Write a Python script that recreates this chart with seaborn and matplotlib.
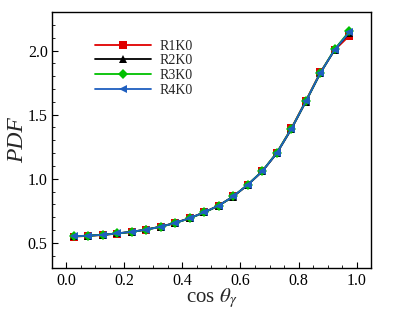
import numpy as np
import pandas as pd
import seaborn as sns
import matplotlib
matplotlib.use('Agg')
import matplotlib.pyplot as plt
from matplotlib.ticker import MultipleLocator

# bin centres of cos(theta_gamma)
cos_theta = [0.025, 0.075, 0.125, 0.175, 0.225, 0.275, 0.325, 0.375, 0.425, 0.475,
             0.525, 0.575, 0.625, 0.675, 0.725, 0.775, 0.825, 0.875, 0.925, 0.975]

# PDF, one list per case
r1k0 = [0.548, 0.554, 0.561, 0.572, 0.585, 0.603, 0.626, 0.656, 0.693, 0.738,
        0.791, 0.862, 0.952, 1.058, 1.202, 1.392, 1.608, 1.830, 2.006, 2.115]
r2k0 = [0.551, 0.556, 0.563, 0.574, 0.586, 0.604, 0.626, 0.655, 0.692, 0.737,
        0.790, 0.861, 0.953, 1.057, 1.198, 1.385, 1.600, 1.822, 2.008, 2.140]
r3k0 = [0.550, 0.555, 0.562, 0.573, 0.585, 0.603, 0.625, 0.654, 0.691, 0.737,
        0.790, 0.862, 0.954, 1.060, 1.203, 1.390, 1.604, 1.826, 2.012, 2.150]
r4k0 = [0.551, 0.556, 0.562, 0.573, 0.586, 0.603, 0.625, 0.655, 0.692, 0.738,
        0.791, 0.862, 0.953, 1.058, 1.200, 1.388, 1.603, 1.825, 2.008, 2.143]

cases = ['R1K0', 'R2K0', 'R3K0', 'R4K0']
colors = ['#e00000', '#000000', '#00c000', '#1f5fbf']
marks = ['s', '^', 'D', '<']

df_list = []
for name, vals in zip(cases, [r1k0, r2k0, r3k0, r4k0]):
    df_list.append(pd.DataFrame({'x': cos_theta, 'pdf': vals, 'case': name}))
df = pd.concat(df_list)

sns.set_style('white')
plt.rcParams['font.family'] = 'serif'
plt.rcParams['font.serif'] = ['Liberation Serif', 'DejaVu Serif']
plt.rcParams['mathtext.fontset'] = 'stix'

fig = plt.figure(figsize=(3.99, 3.10), dpi=100)
ax = fig.add_axes([0.130, 0.134, 0.800, 0.827])

sns.lineplot(data=df, x='x', y='pdf', hue='case', style='case',
             palette=dict(zip(cases, colors)), markers=dict(zip(cases, marks)),
             dashes=False, markersize=5.5, markeredgewidth=0, linewidth=1.3,
             legend=False, ax=ax)

ax.set_xlim(-0.05, 1.05)
ax.set_ylim(0.3, 2.3)
ax.xaxis.set_major_locator(MultipleLocator(0.2))
ax.xaxis.set_minor_locator(MultipleLocator(0.05))
ax.yaxis.set_major_locator(MultipleLocator(0.5))
ax.yaxis.set_minor_locator(MultipleLocator(0.1))
ax.xaxis.set_major_formatter(plt.FormatStrFormatter('%.1f'))
ax.yaxis.set_major_formatter(plt.FormatStrFormatter('%.1f'))
ax.tick_params(which='both', direction='in', bottom=True, left=True, top=False, right=False,
               labelsize=11.5, colors='black')
ax.tick_params(which='major', length=4, width=0.8, pad=3)
ax.tick_params(which='minor', length=2, width=0.6)
for s in ax.spines.values():
    s.set_color('black')
    s.set_linewidth(1.0)

ax.set_xlabel(r'cos $\theta_\gamma$', fontsize=15, labelpad=-1.5)
ax.set_ylabel('PDF', fontsize=17, style='italic', labelpad=0)

handles = []
for name, c, m in zip(cases, colors, marks):
    h, = ax.plot([], [], color=c, marker=m, markersize=5.5, markeredgewidth=0, linewidth=1.3, label=name)
    handles.append(h)
ax.legend(handles=handles, loc='upper left', bbox_to_anchor=(0.135, 0.893), frameon=False,
          fontsize=10, handlelength=4.0, handletextpad=0.65, labelspacing=0.13,
          borderpad=0, borderaxespad=0)

fig.savefig('out.png', dpi=100)
